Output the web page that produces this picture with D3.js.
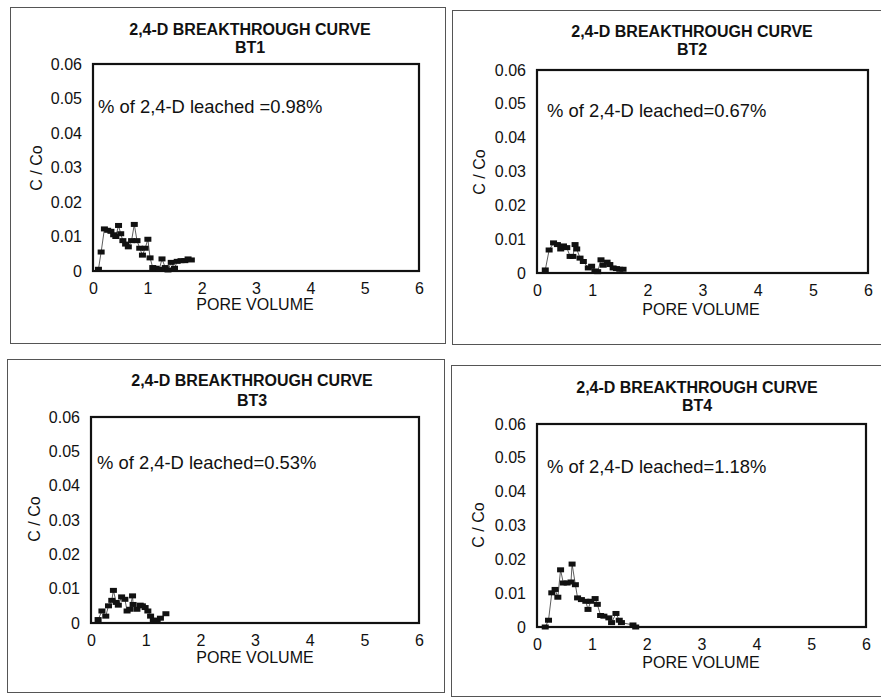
<!DOCTYPE html>
<html>
<head>
<meta charset="utf-8">
<script src="https://cdn.jsdelivr.net/npm/d3@7"></script>
<style>
  body { margin: 0; background: #fff; }
  text { font-family: "Liberation Sans", Arial, sans-serif; fill: #111; }
</style>
</head>
<body>
<div id="chart"></div>
<script>
var svgWidth = 881;
var svgHeight = 698;

// tick labels (same on every panel)
var xTicks = [0, 1, 2, 3, 4, 5, 6];
var yTicks = [0, 0.01, 0.02, 0.03, 0.04, 0.05, 0.06];

var panelNames = ["BT1", "BT2", "BT3", "BT4"];
var leachedText = ["% of 2,4-D leached =0.98%", "% of 2,4-D leached=0.67%",
                   "% of 2,4-D leached=0.53%", "% of 2,4-D leached=1.18%"];

// BT1
var bt1Pv = [0.10, 0.15, 0.21, 0.27, 0.33, 0.38, 0.42, 0.47, 0.51, 0.55, 0.60, 0.65, 0.71, 0.76, 0.81, 0.86, 0.91, 0.96, 1.01, 1.05, 1.10, 1.16, 1.22, 1.27, 1.33, 1.38, 1.44, 1.50, 1.55, 1.62, 1.69, 1.75, 1.81];
var bt1C  = [0.0005, 0.0055, 0.0122, 0.0118, 0.0115, 0.0105, 0.0100, 0.0132, 0.0108, 0.0088, 0.0078, 0.0070, 0.0088, 0.0135, 0.0088, 0.0066, 0.0046, 0.0066, 0.0092, 0.0038, 0.0010, 0.0008, 0.0005, 0.0035, 0.0010, 0.0003, 0.0025, 0.0008, 0.0028, 0.0030, 0.0030, 0.0035, 0.0032];

// BT2
var bt2Pv = [0.15, 0.22, 0.30, 0.37, 0.43, 0.48, 0.54, 0.60, 0.65, 0.69, 0.72, 0.78, 0.84, 0.93, 0.99, 1.05, 1.10, 1.16, 1.20, 1.27, 1.32, 1.38, 1.44, 1.50, 1.56];
var bt2C  = [0.0009, 0.0068, 0.0089, 0.0084, 0.0071, 0.0080, 0.0075, 0.0049, 0.0049, 0.0084, 0.0071, 0.0044, 0.0034, 0.0015, 0.0020, 0.0006, 0.0004, 0.0039, 0.0023, 0.0032, 0.0025, 0.0015, 0.0013, 0.0011, 0.0011];

// BT3
var bt3Pv = [0.13, 0.20, 0.27, 0.32, 0.38, 0.41, 0.46, 0.50, 0.56, 0.62, 0.66, 0.71, 0.76, 0.77, 0.84, 0.90, 0.94, 0.99, 1.04, 1.09, 1.14, 1.21, 1.27, 1.37];
var bt3C  = [0.0010, 0.0035, 0.0020, 0.0050, 0.0066, 0.0095, 0.0060, 0.0052, 0.0076, 0.0069, 0.0035, 0.0040, 0.0079, 0.0054, 0.0040, 0.0052, 0.0050, 0.0045, 0.0035, 0.0020, 0.0008, 0.0008, 0.0014, 0.0027];

// BT4
var bt4Pv = [0.15, 0.21, 0.27, 0.33, 0.38, 0.43, 0.48, 0.55, 0.62, 0.64, 0.70, 0.74, 0.81, 0.89, 0.93, 0.98, 1.06, 1.10, 1.16, 1.22, 1.31, 1.36, 1.44, 1.50, 1.54, 1.75, 1.80];
var bt4C  = [0.0000, 0.0020, 0.0101, 0.0111, 0.0088, 0.0169, 0.0130, 0.0130, 0.0133, 0.0186, 0.0125, 0.0086, 0.0081, 0.0076, 0.0052, 0.0076, 0.0084, 0.0067, 0.0034, 0.0032, 0.0027, 0.0013, 0.0040, 0.0020, 0.0013, 0.0006, 0.0000];

var seriesPv = [bt1Pv, bt2Pv, bt3Pv, bt4Pv];
var seriesC = [bt1C, bt2C, bt3C, bt4C];

// panel layout: outer frame, plot box, title / annotation / axis title spots
var layout = [
    { frame: [10, 7, 435, 336], box: [93, 64, 419, 271], tx: 250, ty: [35, 53], ax: 98, ay: 113, xl: [255, 310], yl: [36, 168] },
    { frame: [452, 10, 440, 334], box: [537, 70, 868, 273], tx: 692, ty: [37, 55], ax: 547, ay: 117, xl: [701, 315], yl: [479, 172] },
    { frame: [7, 359, 437, 333], box: [91, 417, 419, 623], tx: 252, ty: [386, 406], ax: 97, ay: 469, xl: [255, 663], yl: [34, 519] },
    { frame: [451, 365, 440, 331], box: [537, 424, 866, 627], tx: 697, ty: [393, 411], ax: 547, ay: 473, xl: [701, 668], yl: [478, 525] }
];

var svg = d3.select("#chart")
    .append("svg")
    .attr("width", svgWidth)
    .attr("height", svgHeight);

layout.forEach(function(p, i) {
    var g = svg.append("g");

    // outer frame
    g.append("rect")
        .attr("x", p.frame[0] + 0.5)
        .attr("y", p.frame[1] + 0.5)
        .attr("width", p.frame[2])
        .attr("height", p.frame[3])
        .attr("fill", "none")
        .attr("stroke", "#555")
        .attr("stroke-width", 1);

    var xScale = d3.scaleLinear().domain([0, 6]).range([p.box[0], p.box[2]]);
    var yScale = d3.scaleLinear().domain([0, 0.06]).range([p.box[3], p.box[1]]);

    // axes (labels only, no tick marks)
    var bottomAxis = d3.axisBottom(xScale).tickValues(xTicks).tickSize(0).tickPadding(12).tickFormat(d3.format("d"));
    var leftAxis = d3.axisLeft(yScale).tickValues(yTicks).tickSize(0).tickPadding(11).tickFormat(d => d === 0 ? "0" : d3.format(".2f")(d));

    var xa = g.append("g").attr("transform", `translate(0, ${p.box[3]})`).call(bottomAxis);
    var ya = g.append("g").attr("transform", `translate(${p.box[0]}, 0)`).call(leftAxis);
    [xa, ya].forEach(function(a) {
        a.select(".domain").remove();
        a.selectAll("text").style("font-size", "16px").attr("fill", "#111")
            .style("font-family", '"Liberation Sans", Arial, sans-serif');
    });

    // plot box
    g.append("rect")
        .attr("x", p.box[0])
        .attr("y", p.box[1])
        .attr("width", p.box[2] - p.box[0])
        .attr("height", p.box[3] - p.box[1])
        .attr("fill", "none")
        .attr("stroke", "#111")
        .attr("stroke-width", 2.2);

    // titles
    g.append("text")
        .attr("x", p.tx).attr("y", p.ty[0])
        .attr("text-anchor", "middle")
        .style("font-size", "16px").style("font-weight", "bold")
        .text("2,4-D BREAKTHROUGH CURVE");
    g.append("text")
        .attr("x", p.tx).attr("y", p.ty[1])
        .attr("text-anchor", "middle")
        .style("font-size", "16px").style("font-weight", "bold")
        .text(panelNames[i]);

    // annotation
    g.append("text")
        .attr("x", p.ax).attr("y", p.ay)
        .style("font-size", "18.4px")
        .text(leachedText[i]);

    // axis titles
    g.append("text")
        .attr("x", p.xl[0]).attr("y", p.xl[1])
        .attr("text-anchor", "middle")
        .style("font-size", "16px")
        .text("PORE VOLUME");
    g.append("text")
        .attr("transform", `translate(${p.yl[0]}, ${p.yl[1]}) rotate(-90)`)
        .attr("text-anchor", "middle")
        .attr("dy", "0.35em")
        .style("font-size", "16px")
        .text("C / Co");

    // series
    var pts = seriesPv[i].map((v, k) => ({ pv: v, c: seriesC[i][k] }));
    var line = d3.line().x(d => xScale(d.pv)).y(d => yScale(d.c));

    g.append("path")
        .datum(pts)
        .attr("d", line)
        .attr("fill", "none")
        .attr("stroke", "#333")
        .attr("stroke-width", 0.8);

    g.selectAll(".pt")
        .data(pts)
        .enter()
        .append("rect")
        .attr("class", "pt")
        .attr("x", d => xScale(d.pv) - 3.5)
        .attr("y", d => yScale(d.c) - 2.5)
        .attr("width", 7)
        .attr("height", 5)
        .attr("fill", "#111");
});
</script>
</body>
</html>
